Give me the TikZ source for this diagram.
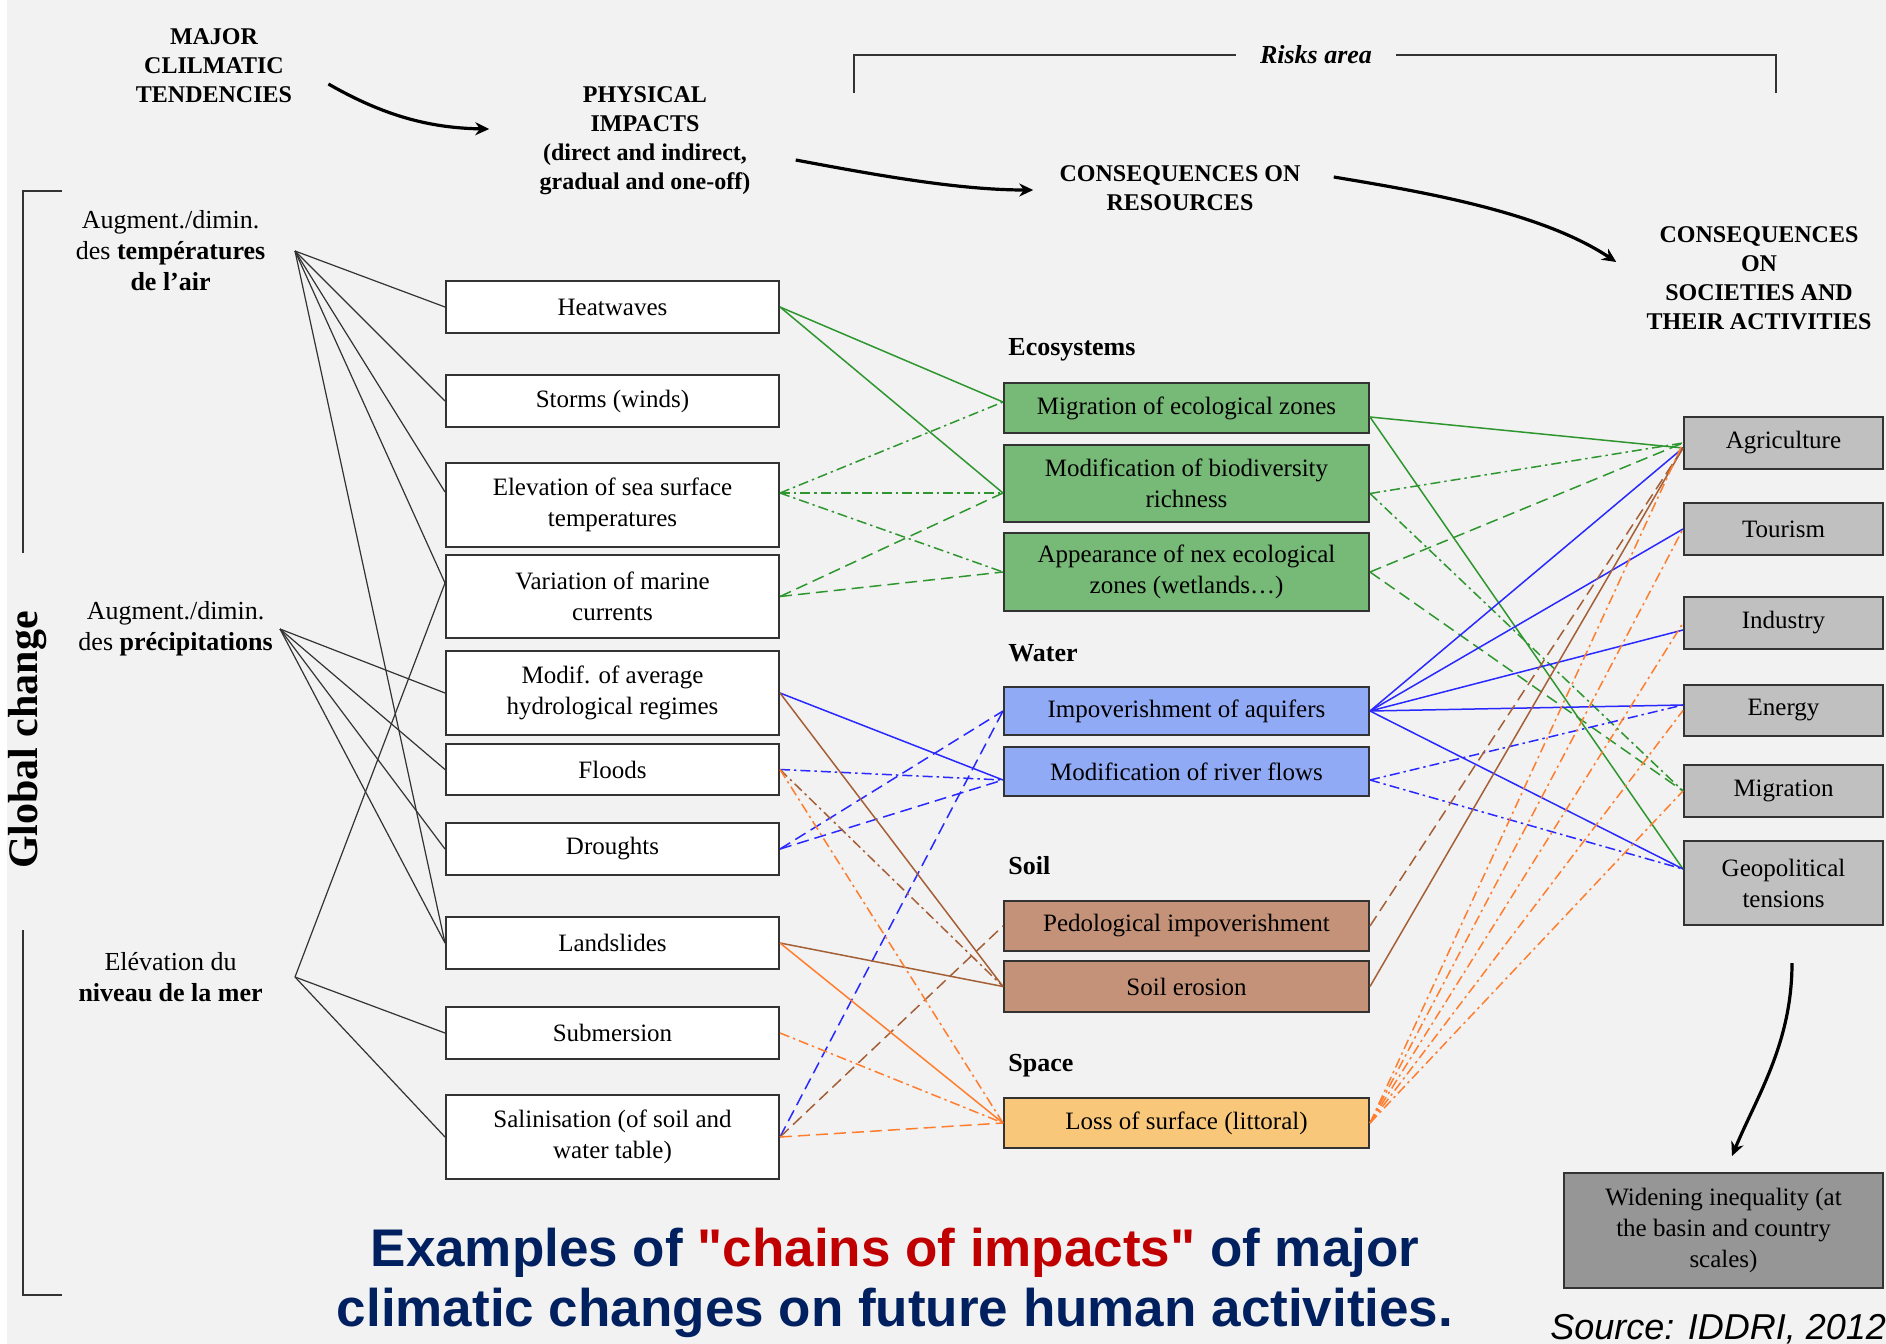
\documentclass[tikz,border=0pt]{standalone}
\usepackage{fontspec}
\setmainfont{Liberation Serif}
\newfontfamily\titlefont{Liberation Sans}
\usetikzlibrary{arrows.meta}
\definecolor{paper}{RGB}{242,242,242}
\definecolor{ink}{RGB}{51,51,51}
\definecolor{ecofill}{RGB}{119,185,119}
\definecolor{ecoline}{RGB}{46,150,46}
\definecolor{waterfill}{RGB}{145,170,245}
\definecolor{waterline}{RGB}{40,40,255}
\definecolor{soilfill}{RGB}{196,146,120}
\definecolor{soilline}{RGB}{165,95,55}
\definecolor{spacefill}{RGB}{249,199,122}
\definecolor{spaceline}{RGB}{255,125,45}
\definecolor{socfill}{RGB}{192,192,192}
\definecolor{widefill}{RGB}{150,150,150}
\definecolor{navy}{RGB}{0,32,96}
\definecolor{brick}{RGB}{192,0,0}
\tikzset{
  >={Stealth[length=7pt,width=6.5pt]},
  boxtext/.style={font=\fontsize{12.5}{15.5}\selectfont},
  impact/.style={draw=ink,line width=1pt,fill=#1,align=center,boxtext,
    minimum width=166.5pt,inner sep=2pt},
  impact/.default=white,
  resource/.style={impact=#1,minimum width=182.5pt},
  society/.style={impact=#1,minimum width=99.5pt},
  society/.default=socfill,
  heading/.style={font=\bfseries\fontsize{12}{14.5}\selectfont,align=center,inner sep=0pt},
  trend/.style={font=\fontsize{13}{15.5}\selectfont,align=center,minimum width=#1,
    inner sep=0pt,anchor=east},
  group/.style={font=\bfseries\fontsize{13}{15}\selectfont,anchor=west,inner sep=0pt},
  trendline/.style={draw=ink,line width=0.6pt},
  link/.style={draw=#1,line width=0.75pt},
  dotdash/.style={dash pattern=on 5pt off 2pt on 1.2pt off 2pt},
  longdash/.style={dash pattern=on 6pt off 3pt},
  bigflow/.style={->,draw=black,line width=1.6pt},
  frame/.style={draw=ink,line width=0.9pt},
}

\begin{document}
\begin{tikzpicture}[x=0.5pt,y=-0.5pt]
  \useasboundingbox (0,0) rectangle (1886,1344);
  \fill[white] (0,0) rectangle (1886,1344);
  \fill[paper] (7,0) rectangle (1886,1344);

  % column headings
  \node[heading] (major) at (214,66) {MAJOR\\CLILMATIC\\TENDENCIES};
  \node[heading] (phys) at (645,141) {PHYSICAL\\IMPACTS\\(direct and indirect,\\gradual and one-off)};
  \node[heading] (consres) at (1180,188) {CONSEQUENCES ON\\RESOURCES};
  \node[heading] (consoc) at (1759,278) {CONSEQUENCES\\ON\\SOCIETIES AND\\THEIR ACTIVITIES};
  \node[font=\bfseries\itshape\fontsize{13}{15}\selectfont,inner xsep=12pt] (risk) at (1316,55) {Risks area};
  \draw[frame] (854,93) |- (risk.west);
  \draw[frame] (1776,93) |- (risk.east);

  % global change
  \node[rotate=90,font=\bfseries\fontsize{21}{24}\selectfont] (glob) at (28,740) {Global change};
  \draw[frame] (62,191) -| (23,553);
  \draw[frame] (23,930) |- (62,1295);
  \node[trend=124pt] (temp) at (295,251) {Augment./dimin.\\des \textbf{températures}\\\textbf{de l’air}};
  \node[trend=104pt] (prec) at (280,629) {Augment./dimin.\\des \textbf{précipitations}};
  \node[trend=124pt] (mer) at (295,977) {Elévation du\\\textbf{niveau de la mer}};

  % physical impacts
  \foreach \n/\y/\h/\t in {heat/307/26pt/Heatwaves,storm/401/26pt/Storms (winds),
      elev/505/42pt/Elevation of sea surface\\temperatures,curr/596.5/41.5pt/Variation of marine\\currents,
      hydro/693/42pt/Modif. of average\\hydrological regimes,flood/769.5/25.5pt/Floods,
      drought/849/26pt/Droughts,slide/943/26pt/Landslides,subm/1033/26pt/Submersion,
      salin/1137/42pt/Salinisation (of soil and\\water table)}
    \node[impact,minimum height=\h] (\n) at (612.5,\y) {\t};

  % resources
  \node[group] (g1) at (1008,350) {Ecosystems};
  \node[group] (g2) at (1008,653) {Water};
  \node[group] (g3) at (1008,866) {Soil};
  \node[group] (g4) at (1008,1066) {Space};
  \foreach \n/\y/\h/\c/\t in {ecomig/408/25pt/ecofill/Migration of ecological zones,
      biodiv/483.5/38.5pt/ecofill/Modification of biodiversity\\richness,
      newzone/572/39pt/ecofill/Appearance of nex ecological\\zones (wetlands…),
      aquif/711/24pt/waterfill/Impoverishment of aquifers,
      river/771.5/24.5pt/waterfill/Modification of river flows,
      pedo/926/25pt/soilfill/Pedological impoverishment,
      erosion/986.5/25.5pt/soilfill/Soil erosion,
      surface/1123/25pt/spacefill/Loss of surface (littoral)}
    \node[resource=\c,minimum height=\h] (\n) at (1186.5,\y) {\t};

  % societies
  \foreach \n/\y/\h/\t in {agri/443/26pt/Agriculture,tour/529/26pt/Tourism,indus/623/26pt/Industry,
      energy/710.5/25.5pt/Energy,migr/791/26pt/Migration,geo/883/42pt/Geopolitical\\tensions}
    \node[society,minimum height=\h] (\n) at (1783.5,\y) {\t};
  \node[society=widefill,minimum width=159.5pt,minimum height=57.5pt] (wide) at (1723.5,1230.5)
    {Widening inequality (at\\the basin and country\\scales)};

  % big arrows
  \draw[bigflow] ([shift={(36,18)}]major.east) .. controls +(54,31) and +(-61,-1) .. ([shift={(-50,-12)}]phys.west);
  \draw[bigflow] ([shift={(45,19)}]phys.east) .. controls +(80,15) and +(-75,0) .. ([shift={(-26,2)}]consres.west);
  \draw[bigflow] ([shift={(33,-11)}]consres.east) .. controls +(90,15) and +(-75,-50) .. ([shift={(-30,-16)}]consoc.west);
  \draw[bigflow] ([shift={(8.5,37)}]geo.south) .. controls +(0,80) and +(25,-60) .. ([shift={(8.5,-16)}]wide.north);

  % trends -> impacts
  \foreach \b/\s in {heat/0pt,storm/0pt,elev/6.5pt,curr/6.75pt,slide/0pt}
    \draw[trendline] (temp.east) -- ([yshift=\s]\b.west);
  \foreach \b in {hydro,flood,drought,slide}
    \draw[trendline] (prec.east) -- (\b.west);
  \foreach \b/\s in {curr/6.75pt,subm/0pt,salin/0pt}
    \draw[trendline] (mer.east) -- ([yshift=\s]\b.west);

  % impacts -> resources
  \draw[link=ecoline] (heat.east) -- ([yshift=3pt]ecomig.west);
  \draw[link=ecoline] (heat.east) -- ([yshift=-4.75pt]biodiv.west);
  \foreach \b/\s in {ecomig/3pt,biodiv/-4.75pt,newzone/0pt}
    \draw[link=ecoline,dotdash] ([yshift=6pt]elev.east) -- ([yshift=\s]\b.west);
  \foreach \b/\s in {biodiv/-4.75pt,newzone/0pt}
    \draw[link=ecoline,longdash] (curr.east) -- ([yshift=\s]\b.west);
  \draw[link=waterline] (hydro.east) -- ([yshift=-4.25pt]river.west);
  \draw[link=waterline,dotdash] (flood.east) -- ([yshift=-4.25pt]river.west);
  \draw[link=waterline,longdash] (drought.east) -- (aquif.west);
  \draw[link=waterline,longdash] (drought.east) -- ([yshift=-4.25pt]river.west);
  \draw[link=waterline,longdash] (salin.east) -- (aquif.west);
  \draw[link=soilline] (hydro.east) -- (erosion.west);
  \draw[link=soilline,dotdash] (flood.east) -- (erosion.west);
  \draw[link=soilline] (slide.east) -- (erosion.west);
  \draw[link=soilline,longdash] (salin.east) -- (pedo.west);
  \draw[link=spaceline,dotdash] (flood.east) -- (surface.west);
  \draw[link=spaceline] (slide.east) -- (surface.west);
  \draw[link=spaceline,dotdash] (subm.east) -- (surface.west);
  \draw[link=spaceline,longdash] (salin.east) -- (surface.west);

  % resources -> societies
  \draw[link=ecoline] ([yshift=-4.5pt]ecomig.east) -- ([yshift=-2.5pt]agri.west);
  \draw[link=ecoline] ([yshift=-4.5pt]ecomig.east) -- ([yshift=7pt]geo.west);
  \foreach \b in {agri,migr}
    \draw[link=ecoline,dotdash] ([yshift=-5pt]biodiv.east) -- (\b.west);
  \foreach \b in {agri,migr}
    \draw[link=ecoline,longdash] (newzone.east) -- (\b.west);
  \foreach \b/\s in {agri/-2.5pt,tour/0pt,indus/-3.5pt,energy/2.75pt,geo/7pt}
    \draw[link=waterline] (aquif.east) -- ([yshift=\s]\b.west);
  \foreach \b/\s in {energy/2.75pt,geo/7pt}
    \draw[link=waterline,dotdash] ([yshift=-4.25pt]river.east) -- ([yshift=\s]\b.west);
  \draw[link=soilline,longdash] (pedo.east) -- ([yshift=-2.5pt]agri.west);
  \draw[link=soilline] (erosion.east) -- ([yshift=-2.5pt]agri.west);
  \foreach \b in {agri,tour,indus,energy,migr}
    \draw[link=spaceline,dotdash] (surface.east) -- (\b.west);

  % caption
  \node[font=\titlefont\bfseries\fontsize{26.5}{30}\selectfont,text=navy,align=center] (title) at (895,1283)
    {Examples of \textcolor{brick}{"chains of impacts"} of major\\climatic changes on future human activities.};
  \node[font=\titlefont\itshape\fontsize{18}{20}\selectfont,anchor=base west,inner sep=0pt] (src) at (1550,1339)
    {Source: IDDRI, 2012};
\end{tikzpicture}
\end{document}
